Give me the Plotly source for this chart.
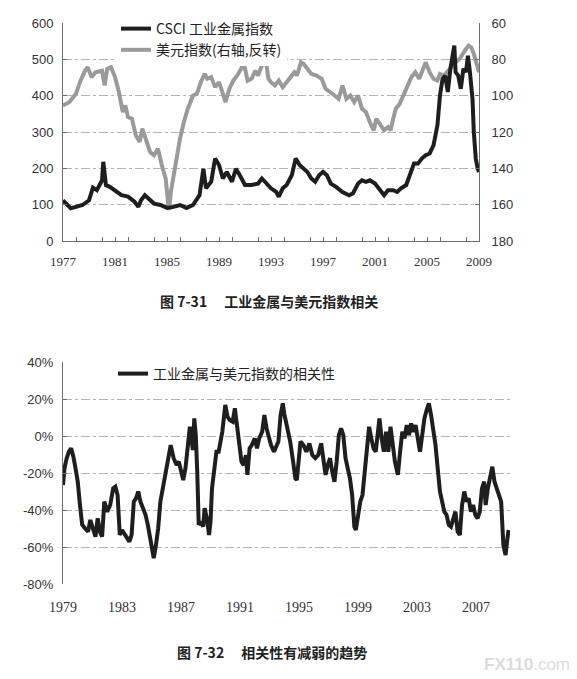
import plotly.graph_objects as go

# ---- data (decimal years) ----
csci_year = [1977.0, 1977.3, 1977.6, 1978.0, 1978.5, 1979.0, 1979.3, 1979.6, 1980.0, 1980.1,
             1980.3, 1980.6, 1981.0, 1981.5, 1982.0, 1982.5, 1982.8, 1983.0, 1983.3, 1983.6,
             1984.0, 1984.5, 1985.0, 1985.5, 1986.0, 1986.5, 1987.0, 1987.5, 1987.8, 1988.0,
             1988.4, 1988.7, 1989.0, 1989.3, 1989.6, 1990.0, 1990.3, 1990.6, 1991.0, 1991.5,
             1992.0, 1992.3, 1992.7, 1993.0, 1993.4, 1993.6, 1993.9, 1994.2, 1994.6, 1994.9,
             1995.2, 1995.5, 1995.8, 1996.1, 1996.4, 1996.7, 1997.0, 1997.3, 1997.6, 1998.0,
             1998.5, 1999.0, 1999.3, 1999.7, 2000.0, 2000.3, 2000.6, 2001.0, 2001.3, 2001.7,
             2002.0, 2002.4, 2002.7, 2003.0, 2003.4, 2003.7, 2004.0, 2004.3, 2004.6, 2004.9,
             2005.2, 2005.5, 2005.8, 2006.0, 2006.2, 2006.4, 2006.6, 2006.8, 2006.9, 2007.1,
             2007.2, 2007.4, 2007.6, 2007.8, 2008.0, 2008.15, 2008.3, 2008.5, 2008.6, 2008.75,
             2008.9, 2009.0]
csci = [112, 99, 90, 94, 99, 112, 147, 140, 167, 218,
        154, 149, 140, 126, 122, 108, 94, 112, 126, 117,
        103, 99, 91, 94, 99, 91, 99, 126, 199, 145,
        163, 227, 209, 172, 190, 163, 199, 181, 154, 154,
        158, 172, 158, 145, 135, 122, 145, 154, 181, 227,
        209, 199, 190, 172, 163, 181, 190, 181, 158, 149,
        135, 126, 131, 158, 167, 163, 167, 158, 145, 126,
        140, 140, 135, 145, 154, 181, 213, 213, 227, 236,
        241, 263, 318, 401, 446, 455, 410, 474, 501, 538,
        465, 455, 419, 474, 465, 510, 465, 391, 300, 227,
        199, 190]

usd_year = [1977.0, 1977.5, 1978.0, 1978.3, 1978.7, 1978.9, 1979.2, 1979.5, 1980.0, 1980.2,
            1980.4, 1980.7, 1981.0, 1981.3, 1981.6, 1981.8, 1982.0, 1982.3, 1982.6, 1982.9,
            1983.1, 1983.4, 1983.7, 1984.0, 1984.3, 1984.6, 1984.9, 1985.1, 1985.15, 1985.3,
            1985.5, 1985.8, 1986.0, 1986.3, 1986.6, 1987.0, 1987.3, 1987.6, 1987.9, 1988.1,
            1988.4, 1988.7, 1989.0, 1989.3, 1989.5, 1989.8, 1990.1, 1990.4, 1990.7, 1990.9,
            1991.2, 1991.5, 1991.8, 1992.0, 1992.3, 1992.6, 1992.8, 1993.0, 1993.3, 1993.6,
            1993.9, 1994.2, 1994.5, 1994.8, 1995.0, 1995.3, 1995.5, 1995.8, 1996.1, 1996.5,
            1996.9, 1997.2, 1997.6, 1997.9, 1998.2, 1998.5, 1998.8, 1999.1, 1999.4, 1999.7,
            2000.0, 2000.3, 2000.6, 2000.9, 2001.1, 2001.4, 2001.7, 2002.0, 2002.2, 2002.4,
            2002.6, 2002.9, 2003.2, 2003.5, 2003.8, 2004.1, 2004.4, 2004.7, 2004.9, 2005.2,
            2005.5, 2005.8, 2006.0, 2006.3, 2006.6, 2006.9, 2007.2, 2007.5, 2007.8, 2008.0,
            2008.2, 2008.4, 2008.6, 2008.8, 2008.9, 2009.0]
usd = [105.4, 103.5, 99.0, 92.6, 86.2, 84.3, 89.8, 87.1, 86.2, 94.4,
       85.3, 84.3, 89.8, 98.0, 109.0, 105.4, 111.8, 112.7, 121.8, 125.5,
       118.2, 125.5, 131.0, 132.8, 129.2, 138.3, 145.6, 160.2, 163.0, 152.9,
       143.8, 132.8, 123.7, 114.5, 107.2, 99.9, 99.0, 92.6, 88.0, 90.7,
       89.8, 95.3, 92.6, 99.0, 103.5, 96.2, 91.7, 88.9, 85.3, 81.6,
       91.7, 90.7, 86.2, 88.9, 83.4, 80.7, 90.7, 92.6, 94.4, 91.7,
       95.3, 92.6, 89.8, 87.1, 88.9, 81.6, 82.5, 85.3, 88.0, 88.9,
       90.7, 96.2, 98.0, 99.9, 101.7, 94.4, 101.7, 99.9, 103.5, 99.9,
       107.2, 109.0, 114.5, 119.1, 112.7, 116.4, 119.1, 117.3, 119.1, 112.7,
       107.2, 104.5, 99.9, 94.4, 89.8, 87.1, 90.7, 85.3, 81.6, 87.1,
       90.7, 91.7, 88.0, 88.9, 86.2, 84.3, 81.6, 79.8, 76.1, 74.3,
       72.5, 73.4, 77.0, 81.6, 85.3, 87.1]

corr_year = [1979.0, 1979.1, 1979.25, 1979.4, 1979.55, 1979.7, 1979.85, 1980.0, 1980.15, 1980.3,
             1980.5, 1980.7, 1980.85, 1981.0, 1981.2, 1981.35, 1981.5, 1981.65, 1981.8, 1982.0,
             1982.2, 1982.4, 1982.55, 1982.7, 1982.85, 1983.0, 1983.2, 1983.4, 1983.5, 1983.65,
             1983.8, 1983.95, 1984.1, 1984.25, 1984.4, 1984.6, 1984.75, 1984.9, 1985.05, 1985.15,
             1985.3, 1985.45, 1985.6, 1985.8, 1986.0, 1986.15, 1986.3, 1986.5, 1986.7, 1986.85,
             1987.0, 1987.15, 1987.3, 1987.5, 1987.6, 1987.7, 1987.8, 1987.9, 1988.0, 1988.1,
             1988.2, 1988.35, 1988.5, 1988.6, 1988.75, 1988.9, 1989.0, 1989.1, 1989.25, 1989.4,
             1989.55, 1989.7, 1989.8, 1990.0, 1990.15, 1990.3, 1990.5, 1990.65, 1990.8, 1990.95,
             1991.1, 1991.25, 1991.4, 1991.5, 1991.65, 1991.8, 1992.0, 1992.15, 1992.3, 1992.5,
             1992.65, 1992.8, 1992.95, 1993.1, 1993.3, 1993.45, 1993.6, 1993.75, 1993.9, 1994.0,
             1994.2, 1994.4, 1994.6, 1994.75, 1994.85, 1995.0, 1995.1, 1995.3, 1995.5, 1995.7,
             1995.9, 1996.1, 1996.3, 1996.5, 1996.65, 1996.8, 1996.95, 1997.1, 1997.25, 1997.4,
             1997.55, 1997.7, 1997.85, 1998.0, 1998.15, 1998.3, 1998.45, 1998.6, 1998.75, 1998.85,
             1999.0, 1999.15, 1999.3, 1999.45, 1999.6, 1999.75, 1999.9, 2000.05, 2000.2, 2000.35,
             2000.45, 2000.6, 2000.75, 2000.9, 2001.05, 2001.2, 2001.35, 2001.5, 2001.6, 2001.7,
             2001.85, 2002.0, 2002.15, 2002.3, 2002.45, 2002.6, 2002.75, 2002.9, 2003.05, 2003.2,
             2003.35, 2003.5, 2003.65, 2003.8, 2003.95, 2004.1, 2004.25, 2004.4, 2004.55, 2004.7,
             2004.85, 2005.0, 2005.15, 2005.3, 2005.45, 2005.6, 2005.75, 2005.9, 2006.05, 2006.2,
             2006.35, 2006.5, 2006.65, 2006.8, 2006.95, 2007.1, 2007.25, 2007.4, 2007.55, 2007.65,
             2007.8, 2007.95, 2008.1, 2008.25, 2008.4, 2008.55, 2008.7, 2008.85, 2009.0, 2009.1,
             2009.2]
corr = [-26.5, -17.5, -12.0, -8.5, -6.7, -11.0, -17.5, -24.7, -37.3, -48.0,
        -50.0, -51.7, -45.4, -50.0, -54.4, -44.5, -51.7, -54.4, -35.5, -40.9,
        -37.3, -28.3, -27.4, -31.9, -53.5, -50.8, -53.5, -55.3, -57.1, -53.5,
        -35.5, -33.7, -30.0, -35.5, -39.0, -42.7, -48.0, -55.3, -62.5, -66.0,
        -59.0, -50.0, -35.5, -26.5, -15.7, -9.4, -4.9, -12.0, -15.7, -13.9,
        -19.3, -23.8, -17.5, -4.9, 5.0, -1.3, -7.6, 9.5, 0.5, -19.3,
        -48.0, -46.3, -49.0, -39.0, -44.5, -53.5, -46.3, -28.3, -15.7, -8.5,
        -8.5, -2.2, 2.3, 16.8, 10.5, 8.6, 7.7, 15.0, 5.9, -1.3,
        -13.9, -15.7, -10.3, -21.0, -6.7, -4.9, -1.3, -6.7, -1.3, 2.3,
        11.3, 4.1, -1.3, -4.9, -8.5, -4.9, -3.0, 11.3, 17.7, 12.0,
        5.0, -3.0, -13.9, -22.9, -23.8, -8.5, -3.0, -4.9, -8.5, -4.0,
        -10.3, -12.0, -10.3, -4.0, -12.0, -21.0, -15.7, -12.0, -19.3, -24.7,
        -13.9, 0.5, 4.1, 0.5, -12.0, -17.5, -22.9, -31.9, -49.0, -50.8,
        -42.7, -35.5, -31.9, -17.5, -6.7, 5.0, -1.3, -6.7, -8.5, 0.5,
        9.5, -1.3, -8.5, 2.3, -8.5, 5.0, -6.7, -13.9, -17.5, -21.0,
        -8.5, 2.3, -1.3, 5.9, 0.5, 6.8, 2.3, 5.9, -1.3, -8.5,
        0.5, 9.5, 14.0, 17.7, 11.3, 4.1, -4.9, -17.5, -30.0, -35.5,
        -40.9, -42.7, -48.0, -49.0, -44.5, -40.9, -51.7, -53.5, -37.3, -30.0,
        -35.5, -33.7, -40.9, -37.3, -42.7, -44.5, -40.9, -28.3, -24.7, -37.3,
        -28.3, -21.0, -16.6, -24.7, -28.3, -31.9, -35.5, -58.9, -64.3, -57.1,
        -50.8]

pct_vals = [-80, -60, -40, -20, 0, 20, 40]
pct_text = ["-80%", "-60%", "-40%", "-20%", "0%", "20%", "40%"]

# ---- layout helpers: pixel positions measured on the reference page ----
# the page body adds an 8px margin, so the figure origin sits at (8, 8)
W, H = 577, 679
OFF = 8


def px(x):
    return (x - OFF) / W


def py(y):
    return 1 - (y - OFF) / H


AXC = "#6e6e6e"
GRID = "#b4b4b4"
SANS = "Liberation Sans, Arial, sans-serif"
SERIF = "Liberation Serif, Times New Roman, serif"
CJK = "Noto Sans CJK SC"

fig = go.Figure()

# top chart: black on the overlay axis so it is drawn over the grey line
fig.add_trace(go.Scatter(x=csci_year, y=csci, mode="lines", name="CSCI 工业金属指数",
                         line=dict(color="#1e1e1e", width=4), xaxis="x", yaxis="y2"))
fig.add_trace(go.Scatter(x=usd_year, y=usd, mode="lines", name="美元指数(右轴,反转)",
                         line=dict(color="#9a9a9a", width=4), xaxis="x", yaxis="y"))
# bottom chart
fig.add_trace(go.Scatter(x=corr_year, y=corr, mode="lines", name="工业金属与美元指数的相关性",
                         line=dict(color="#1e1e1e", width=4), xaxis="x2", yaxis="y3",
                         legend="legend2"))

fig.update_layout(
    template="none",
    width=W, height=H,
    margin=dict(l=0, r=0, t=0, b=0, autoexpand=False),
    paper_bgcolor="white", plot_bgcolor="white",
    showlegend=True,
    xaxis=dict(domain=[px(63), px(479)], anchor="y", range=[1977, 2009], automargin=False,
               tick0=1977, dtick=4, ticks="inside", ticklen=4, tickcolor=AXC,
               minor=dict(dtick=2, ticks="inside", ticklen=4, tickcolor=AXC),
               showline=True, linecolor=AXC, showgrid=False, zeroline=False,
               tickfont=dict(family=SERIF, size=13, color="#333"),
               ticklabelstandoff=8),
    yaxis=dict(domain=[py(241), py(23)], anchor="x", side="right", range=[180, 60],
               automargin=False,
               dtick=20, ticks="inside", ticklen=4, tickcolor=AXC,
               showline=True, linecolor=AXC, showgrid=True, gridcolor=GRID,
               griddash="dashdot", zeroline=False,
               tickfont=dict(family=SANS, size=13, color="#333"),
               ticklabelstandoff=9),
    yaxis2=dict(overlaying="y", anchor="x", side="left", range=[0, 600], dtick=100,
                automargin=False,
                ticks="inside", ticklen=4, tickcolor=AXC,
                showline=True, linecolor=AXC, showgrid=False, zeroline=False,
                tickfont=dict(family=SANS, size=13, color="#333"),
                ticklabelstandoff=6),
    xaxis2=dict(domain=[px(63), px(510)], anchor="y3", range=[1979, 2009.3],
                automargin=False,
                tick0=1979, dtick=4, ticks="", showline=False, showgrid=False,
                zeroline=False, tickfont=dict(family=SERIF, size=14, color="#333"),
                ticklabelstandoff=13),
    xaxis3=dict(overlaying="x2", anchor="free", position=py(436), range=[1979, 2009.3],
                automargin=False,
                tick0=1979, dtick=2, ticks="inside", ticklen=4, tickcolor=AXC,
                showticklabels=False, showline=True, linecolor=AXC,
                showgrid=False, zeroline=False),
    yaxis3=dict(domain=[py(584), py(362)], anchor="x2", range=[-80, 40],
                automargin=False,
                tickvals=pct_vals, ticktext=pct_text, ticks="inside", ticklen=4,
                tickcolor=AXC, showline=True, linecolor=AXC, showgrid=True,
                gridcolor=GRID, griddash="dashdot", zeroline=False,
                tickfont=dict(family=SANS, size=13, color="#333"),
                ticklabelstandoff=6),
    legend=dict(x=px(116), y=py(13), xanchor="left", yanchor="top",
                bgcolor="white", borderwidth=0, tracegroupgap=0,
                font=dict(family=CJK, size=14, color="#222")),
    legend2=dict(x=px(113), y=py(358), xanchor="left", yanchor="top",
                 bgcolor="white", borderwidth=0,
                 font=dict(family=CJK, size=14, color="#222")),
    annotations=[
        dict(text="<b>图 7-31\u3000 工业金属与美元指数相关</b>", x=px(269), y=py(301),
             xref="paper", yref="paper", showarrow=False, yanchor="middle",
             font=dict(family=CJK, size=14, color="#222")),
        dict(text="<b>图 7-32\u3000 相关性有减弱的趋势</b>", x=px(272), y=py(652),
             xref="paper", yref="paper", showarrow=False, yanchor="middle",
             font=dict(family=CJK, size=14, color="#222")),
        dict(text="<b>FX110</b>.com", x=px(572), y=py(664), xanchor="right",
             yanchor="middle", xref="paper", yref="paper", showarrow=False,
             font=dict(family=SANS, size=17, color="#dcdcdc")),
    ],
)

fig.write_html("out.html")
